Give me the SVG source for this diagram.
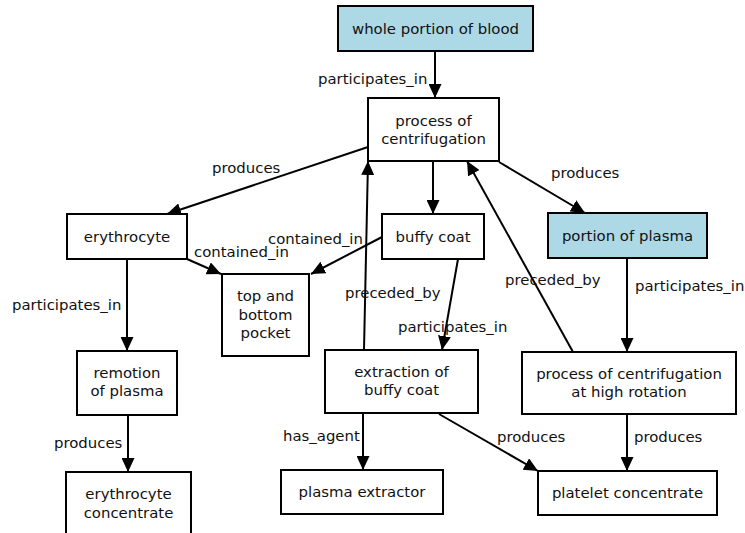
<svg xmlns="http://www.w3.org/2000/svg" width="745" height="533" viewBox="0 0 745 533">
<style>
.n rect{fill:#fff;stroke:#000;stroke-width:2}
.n.b rect{fill:#add8e6}
text{font-family:"DejaVu Sans","Liberation Sans",sans-serif;font-size:14.9px;fill:#111}
.n text{text-anchor:middle}
.e line{stroke:#000;stroke-width:2;marker-end:url(#ah)}
.lbl{text-anchor:start}
</style>
<defs>
<marker id="ah" markerUnits="userSpaceOnUse" markerWidth="14" markerHeight="13" refX="14" refY="6.5" orient="auto" viewBox="0 0 14 13">
<path d="M0,0 L14,6.5 L0,13 z" fill="#000"/>
</marker>
</defs>
<rect width="745" height="533" fill="#fff"/>
<g id="connectors" class="e">
<line x1="435" y1="51" x2="435" y2="98"/>
<line x1="368" y1="147" x2="167" y2="214"/>
<line x1="187" y1="259" x2="221" y2="274"/>
<line x1="382" y1="237" x2="311" y2="274"/>
<line x1="433" y1="161" x2="433" y2="214"/>
<line x1="499" y1="162" x2="585" y2="213"/>
<line x1="458" y1="259" x2="442" y2="350"/>
<line x1="364" y1="350" x2="368" y2="161"/>
<line x1="573" y1="352" x2="467" y2="161"/>
<line x1="627" y1="258" x2="627" y2="352"/>
<line x1="127" y1="259" x2="127" y2="351"/>
<line x1="128" y1="415" x2="128" y2="472"/>
<line x1="363" y1="413" x2="363" y2="470"/>
<line x1="439" y1="414" x2="538" y2="471"/>
<line x1="627" y1="414" x2="627" y2="471"/>
</g>
<g id="edge-labels">
<text class="lbl" x="318" y="84">participates_in</text>
<text class="lbl" x="212" y="173">produces</text>
<text class="lbl" x="194" y="257">contained_in</text>
<text class="lbl" x="268" y="244">contained_in</text>
<text class="lbl" x="551" y="178">produces</text>
<text class="lbl" x="398" y="332">participates_in</text>
<text class="lbl" x="345" y="298">preceded_by</text>
<text class="lbl" x="505" y="285">preceded_by</text>
<text class="lbl" x="635" y="291">participates_in</text>
<text class="lbl" x="12" y="310">participates_in</text>
<text class="lbl" x="54" y="448">produces</text>
<text class="lbl" x="283" y="441">has_agent</text>
<text class="lbl" x="497" y="442">produces</text>
<text class="lbl" x="634" y="442">produces</text>
</g>
<g id="n-blood" class="n b"><rect x="338" y="6" width="195" height="45"/><text x="435.5" y="34">whole portion of blood</text></g>
<g id="n-centrifugation" class="n"><rect x="368" y="98" width="131" height="63"/><text x="433.5" y="125.5">process of</text><text x="433.5" y="143.5">centrifugation</text></g>
<g id="n-erythrocyte" class="n"><rect x="67" y="214" width="120" height="45"/><text x="127" y="242">erythrocyte</text></g>
<g id="n-pocket" class="n"><rect x="222" y="274" width="87" height="82"/><text x="265.5" y="301">top and</text><text x="265.5" y="319.5">bottom</text><text x="265.5" y="338">pocket</text></g>
<g id="n-buffy" class="n"><rect x="382" y="214" width="102" height="45"/><text x="433" y="242">buffy coat</text></g>
<g id="n-plasma" class="n b"><rect x="548" y="213" width="159" height="45"/><text x="627.5" y="241">portion of plasma</text></g>
<g id="n-remotion" class="n"><rect x="77" y="351" width="100" height="64"/><text x="127" y="378">remotion</text><text x="127" y="396">of plasma</text></g>
<g id="n-ery-conc" class="n"><rect x="66" y="472" width="125" height="70"/><text x="128.5" y="499">erythrocyte</text><text x="128.5" y="518">concentrate</text></g>
<g id="n-extraction" class="n"><rect x="325" y="350" width="153" height="63"/><text x="401.5" y="377">extraction of</text><text x="401.5" y="395">buffy coat</text></g>
<g id="n-high" class="n"><rect x="522" y="352" width="214" height="62"/><text x="629" y="379">process of centrifugation</text><text x="629" y="397">at high rotation</text></g>
<g id="n-extractor" class="n"><rect x="281" y="470" width="162" height="44"/><text x="362" y="497">plasma extractor</text></g>
<g id="n-platelet" class="n"><rect x="538" y="471" width="179" height="44"/><text x="627.5" y="498">platelet concentrate</text></g>
</svg>
